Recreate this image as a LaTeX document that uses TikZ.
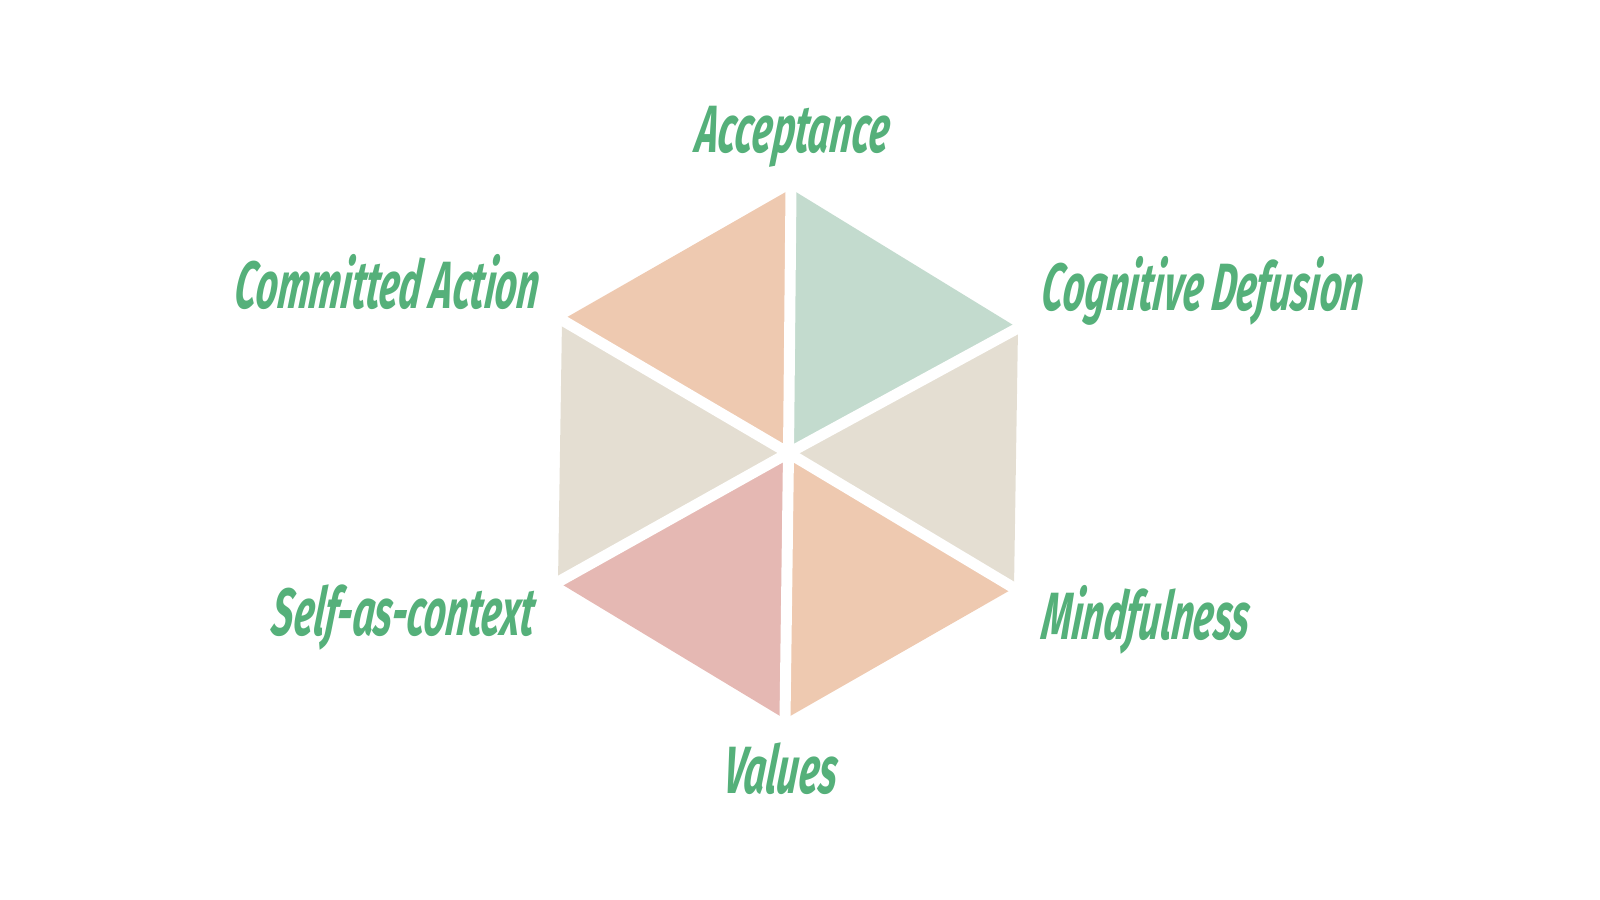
\documentclass[tikz,border=0pt]{standalone}
\usepackage{fontspec}
\newfontfamily\hexfont[FakeStretch=0.57,FakeSlant=0.12]{Fira Sans}
\definecolor{labelgreen}{RGB}{85,176,122}
\definecolor{peach}{RGB}{238,201,176}
\definecolor{sage}{RGB}{195,219,206}
\definecolor{sand}{RGB}{228,222,210}
\definecolor{rose}{RGB}{229,184,179}
\tikzset{
  gap/.style={white,line width=0.11cm,line cap=rect},
  process/.style={inner sep=0pt,text=labelgreen,font=\hexfont\bfseries\itshape\fontsize{19}{21}\selectfont}
}
\begin{document}
\begin{tikzpicture}[x=0.01cm,y=-0.01cm]
    \useasboundingbox (0,0) rectangle (1600,900);
    \coordinate (c) at (788.5,453);
    \coordinate (top) at (791,189);
    \coordinate (ur) at (1018,328);
    \coordinate (lr) at (1014,588);
    \coordinate (bot) at (785,719);
    \coordinate (ll) at (558,582);
    \coordinate (ul) at (562,320);
    % six facets
    \fill [peach] (c) -- (ul) -- (top) -- cycle;
    \fill [sage] (c) -- (top) -- (ur) -- cycle;
    \fill [sand] (c) -- (ur) -- (lr) -- cycle;
    \fill [peach] (c) -- (lr) -- (bot) -- cycle;
    \fill [rose] (c) -- (bot) -- (ll) -- cycle;
    \fill [sand] (c) -- (ll) -- (ul) -- cycle;
    % white gaps
    \foreach \v in {top,ur,lr,bot,ll,ul}
      \draw [gap] (c) -- (\v);
    % labels
    \node [process,anchor=base] (accept) at (791,152) {Acceptance};
    \node [process,anchor=base west] (defuse) at (1040,310) {Cognitive Defusion};
    \node [process,anchor=base west] (mind) at (1040,639) {Mindfulness};
    \node [process,anchor=base] (values) at (779,793) {Values};
    \node [process,anchor=base east] (self) at (534,635) {Self-as-context};
    \node [process,anchor=base east] (commit) at (538,308) {Committed Action};
  \end{tikzpicture}
\end{document}
